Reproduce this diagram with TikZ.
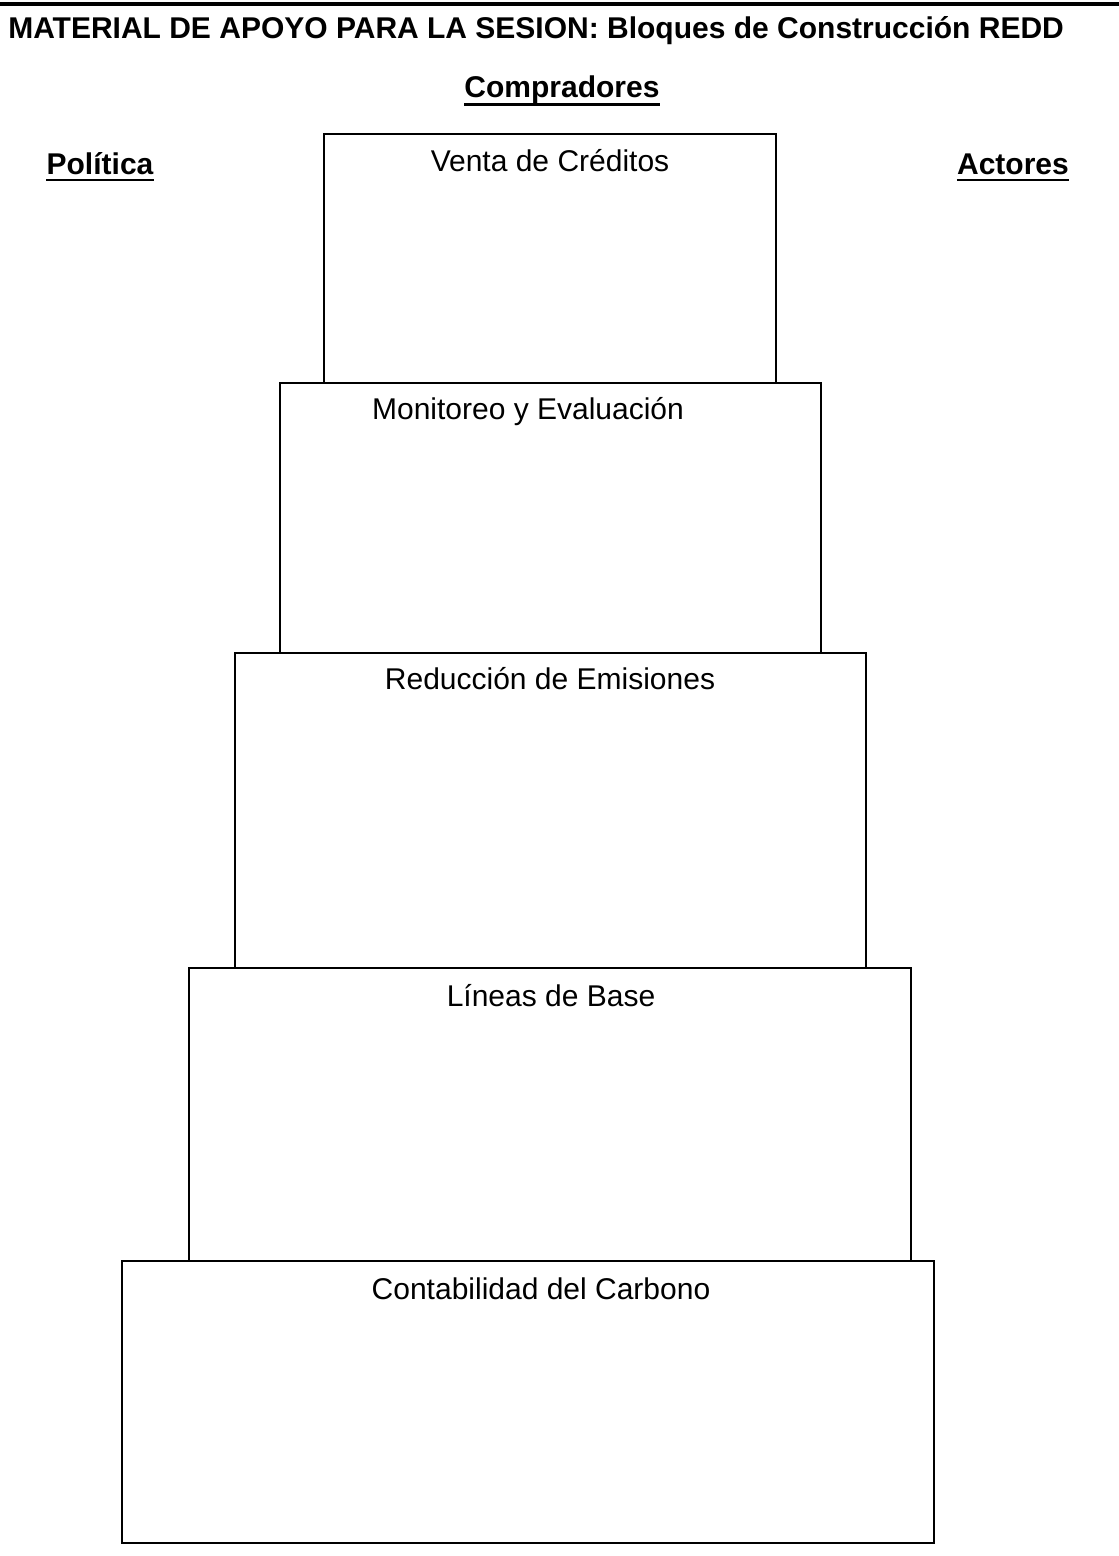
\documentclass[tikz,border=0pt]{standalone}
\usepackage{fontspec}
\setmainfont{Liberation Sans}
\begin{document}
\begin{tikzpicture}[x=0.75pt,y=-0.75pt,
  lbl/.style={inner sep=0pt,font=\fontsize{22.5}{27}\selectfont},
  hdr/.style={inner sep=0pt,font=\fontsize{22.5}{27}\selectfont\bfseries},
  blk/.style={draw=black,line width=1.4pt},
  uline/.style={line width=1.8pt}]
\useasboundingbox[fill=white] (0,0) rectangle (1119,1556);
% top rule
\draw[line width=2.4pt] (0,4) -- (1119,4);
% headings
\node[hdr,anchor=base west] (title) at (8,38) {MATERIAL DE APOYO PARA LA SESION: Bloques de Construcción REDD};
\node[hdr,anchor=base] (comp) at (562,97) {Compradores};
\node[hdr,anchor=base] (pol) at (100,174) {Política};
\node[hdr,anchor=base] (act) at (1013,174) {Actores};
\coordinate (cu1) at ([yshift=-5.5pt]comp.base west);
\coordinate (cu2) at ([yshift=-5.5pt]comp.base east);
\draw[uline] (cu1) -- (cu2);
\coordinate (pu1) at ([yshift=-4.5pt]pol.base west);
\coordinate (pu2) at ([yshift=-4.5pt]pol.base east);
\draw[uline] (pu1) -- (pu2);
\coordinate (au1) at ([yshift=-4.5pt]act.base west);
\coordinate (au2) at ([yshift=-4.5pt]act.base east);
\draw[uline] (au1) -- (au2);
% blocks
\draw[blk] (324,134) rectangle (776,383);
\draw[blk] (280,383) rectangle (821,653);
\draw[blk] (235,653) rectangle (866,968);
\draw[blk] (189,968) rectangle (911,1261);
\draw[blk] (122,1261) rectangle (934,1543);
% block labels
\node[lbl,anchor=base] (b1) at (550,171) {Venta de Créditos};
\node[lbl,anchor=base] (b2) at (528,419) {Monitoreo y Evaluación};
\node[lbl,anchor=base] (b3) at (550,689) {Reducción de Emisiones};
\node[lbl,anchor=base] (b4) at (551,1006) {Líneas de Base};
\node[lbl,anchor=base] (b5) at (541,1299) {Contabilidad del Carbono};
\end{tikzpicture}
\end{document}
